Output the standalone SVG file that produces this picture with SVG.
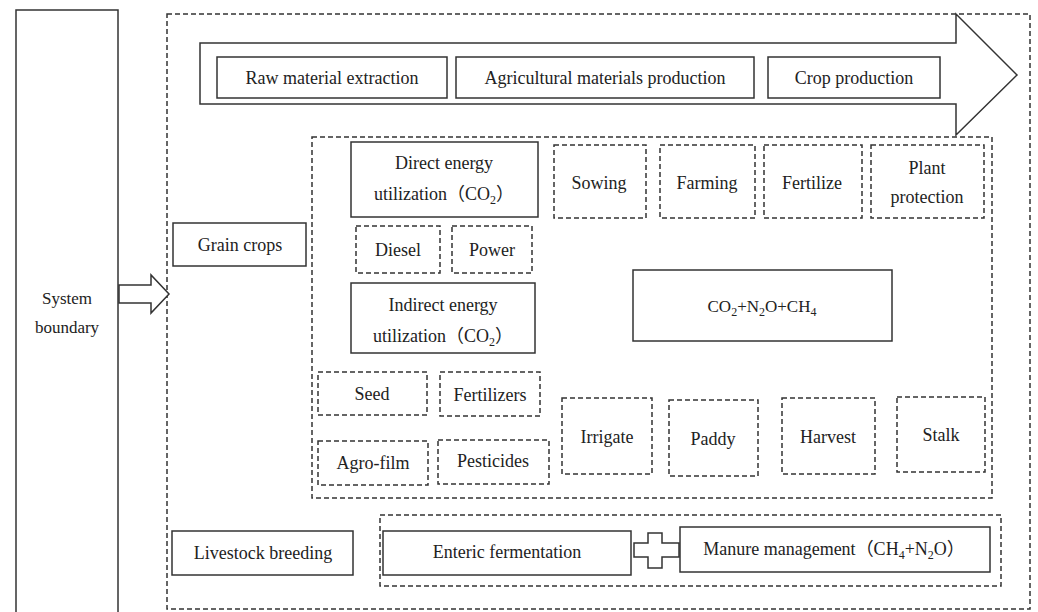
<svg xmlns="http://www.w3.org/2000/svg" width="1038" height="612" viewBox="0 0 1038 612">
<style>
.s{fill:#fff;stroke:#333;stroke-width:1.5}
.d{fill:none;stroke:#333;stroke-width:1.5;stroke-dasharray:5,3}
.t{font-size:18px;fill:#222;text-anchor:middle}
.sub{font-size:12px}
</style>
<rect width="1038" height="612" fill="#fff"/>
<g font-family="Liberation Serif, DejaVu Serif, Noto Sans CJK SC, serif">
<g id="system-boundary">
<rect class="s" x="16" y="10" width="102" height="610"/>
<text class="t" x="67" y="304" style="font-size:17px">System</text>
<text class="t" x="67" y="333" style="font-size:17px">boundary</text>
</g>
<g id="outer-boundary"><rect class="d" x="167" y="14" width="863" height="595"/></g>
<g id="process-arrow">
<polygon class="s" points="200,43 956,43 956,14 1017,75 956,135 956,104 200,104"/>
</g>
<g id="raw-material"><rect class="s" x="217" y="57" width="230" height="41"/><text class="t" x="332" y="84">Raw material extraction</text></g>
<g id="agri-materials"><rect class="s" x="456" y="57" width="298" height="41"/><text class="t" x="605" y="84">Agricultural materials production</text></g>
<g id="crop-production"><rect class="s" x="768" y="57" width="172" height="41"/><text class="t" x="854" y="84">Crop production</text></g>
<g id="grain-crops"><rect class="s" x="173" y="223" width="133" height="43"/><text class="t" x="240" y="251">Grain crops</text></g>
<g id="grain-group"><rect class="d" x="312" y="137" width="680" height="361"/></g>
<g id="direct-energy"><rect class="s" x="351" y="142" width="187" height="75"/>
<text class="t" x="444" y="169">Direct energy</text>
<text class="t" x="444" y="200">utilization（CO<tspan class="sub" dy="4">2</tspan><tspan dy="-4">）</tspan></text></g>
<g id="diesel"><rect class="d" x="356" y="226" width="84" height="47"/><text class="t" x="398" y="256">Diesel</text></g>
<g id="power"><rect class="d" x="452" y="226" width="80" height="47"/><text class="t" x="492" y="256">Power</text></g>
<g id="indirect-energy"><rect class="s" x="351" y="283" width="184" height="70"/>
<text class="t" x="443" y="311">Indirect energy</text>
<text class="t" x="443" y="342">utilization（CO<tspan class="sub" dy="4">2</tspan><tspan dy="-4">）</tspan></text></g>
<g id="sowing"><rect class="d" x="554" y="145" width="92" height="73"/><text class="t" x="599" y="189">Sowing</text></g>
<g id="farming"><rect class="d" x="660" y="145" width="95" height="73"/><text class="t" x="707" y="189">Farming</text></g>
<g id="fertilize"><rect class="d" x="764" y="145" width="98" height="73"/><text class="t" x="812" y="189">Fertilize</text></g>
<g id="plant-protection"><rect class="d" x="871" y="145" width="113" height="73"/><text class="t" x="927" y="174">Plant</text><text class="t" x="927" y="203">protection</text></g>
<g id="emissions"><rect class="s" x="633" y="270" width="259" height="71"/>
<text class="t" x="762" y="312" style="font-size:17px">CO<tspan dy="4" style="font-size:12px">2</tspan><tspan dy="-4">+N</tspan><tspan dy="4" style="font-size:12px">2</tspan><tspan dy="-4">O+CH</tspan><tspan dy="4" style="font-size:12px">4</tspan></text></g>
<g id="seed"><rect class="d" x="318" y="372" width="109" height="43"/><text class="t" x="372" y="400">Seed</text></g>
<g id="fertilizers"><rect class="d" x="440" y="372" width="100" height="44"/><text class="t" x="490" y="401">Fertilizers</text></g>
<g id="agro-film"><rect class="d" x="318" y="441" width="110" height="44"/><text class="t" x="373" y="469">Agro-film</text></g>
<g id="pesticides"><rect class="d" x="438" y="440" width="111" height="44"/><text class="t" x="493" y="467">Pesticides</text></g>
<g id="irrigate"><rect class="d" x="562" y="398" width="90" height="76"/><text class="t" x="607" y="443">Irrigate</text></g>
<g id="paddy"><rect class="d" x="669" y="400" width="89" height="76"/><text class="t" x="713" y="445">Paddy</text></g>
<g id="harvest"><rect class="d" x="782" y="398" width="93" height="76"/><text class="t" x="828" y="443">Harvest</text></g>
<g id="stalk"><rect class="d" x="897" y="397" width="88" height="75"/><text class="t" x="941" y="441">Stalk</text></g>
<g id="livestock-breeding"><rect class="s" x="172" y="531" width="181" height="44"/><text class="t" x="263" y="559">Livestock breeding</text></g>
<g id="livestock-group"><rect class="d" x="380" y="515" width="621" height="71"/></g>
<g id="enteric"><rect class="s" x="383" y="531" width="248" height="44"/><text class="t" x="507" y="558">Enteric fermentation</text></g>
<g id="manure"><rect class="s" x="680" y="527" width="310" height="45"/>
<text class="t" x="834" y="555">Manure management（CH<tspan class="sub" dy="4">4</tspan><tspan dy="-4">+N</tspan><tspan class="sub" dy="4">2</tspan><tspan dy="-4">O）</tspan></text></g>
<g id="connectors">
<polygon class="s" points="119,285 151,285 151,275 169,294 151,313 151,303 119,303"/>
<polygon class="s" points="648,533 662,533 662,543 679,543 679,557 662,557 662,568 648,568 648,557 634,557 634,543 648,543"/>
</g>
</g>
</svg>
